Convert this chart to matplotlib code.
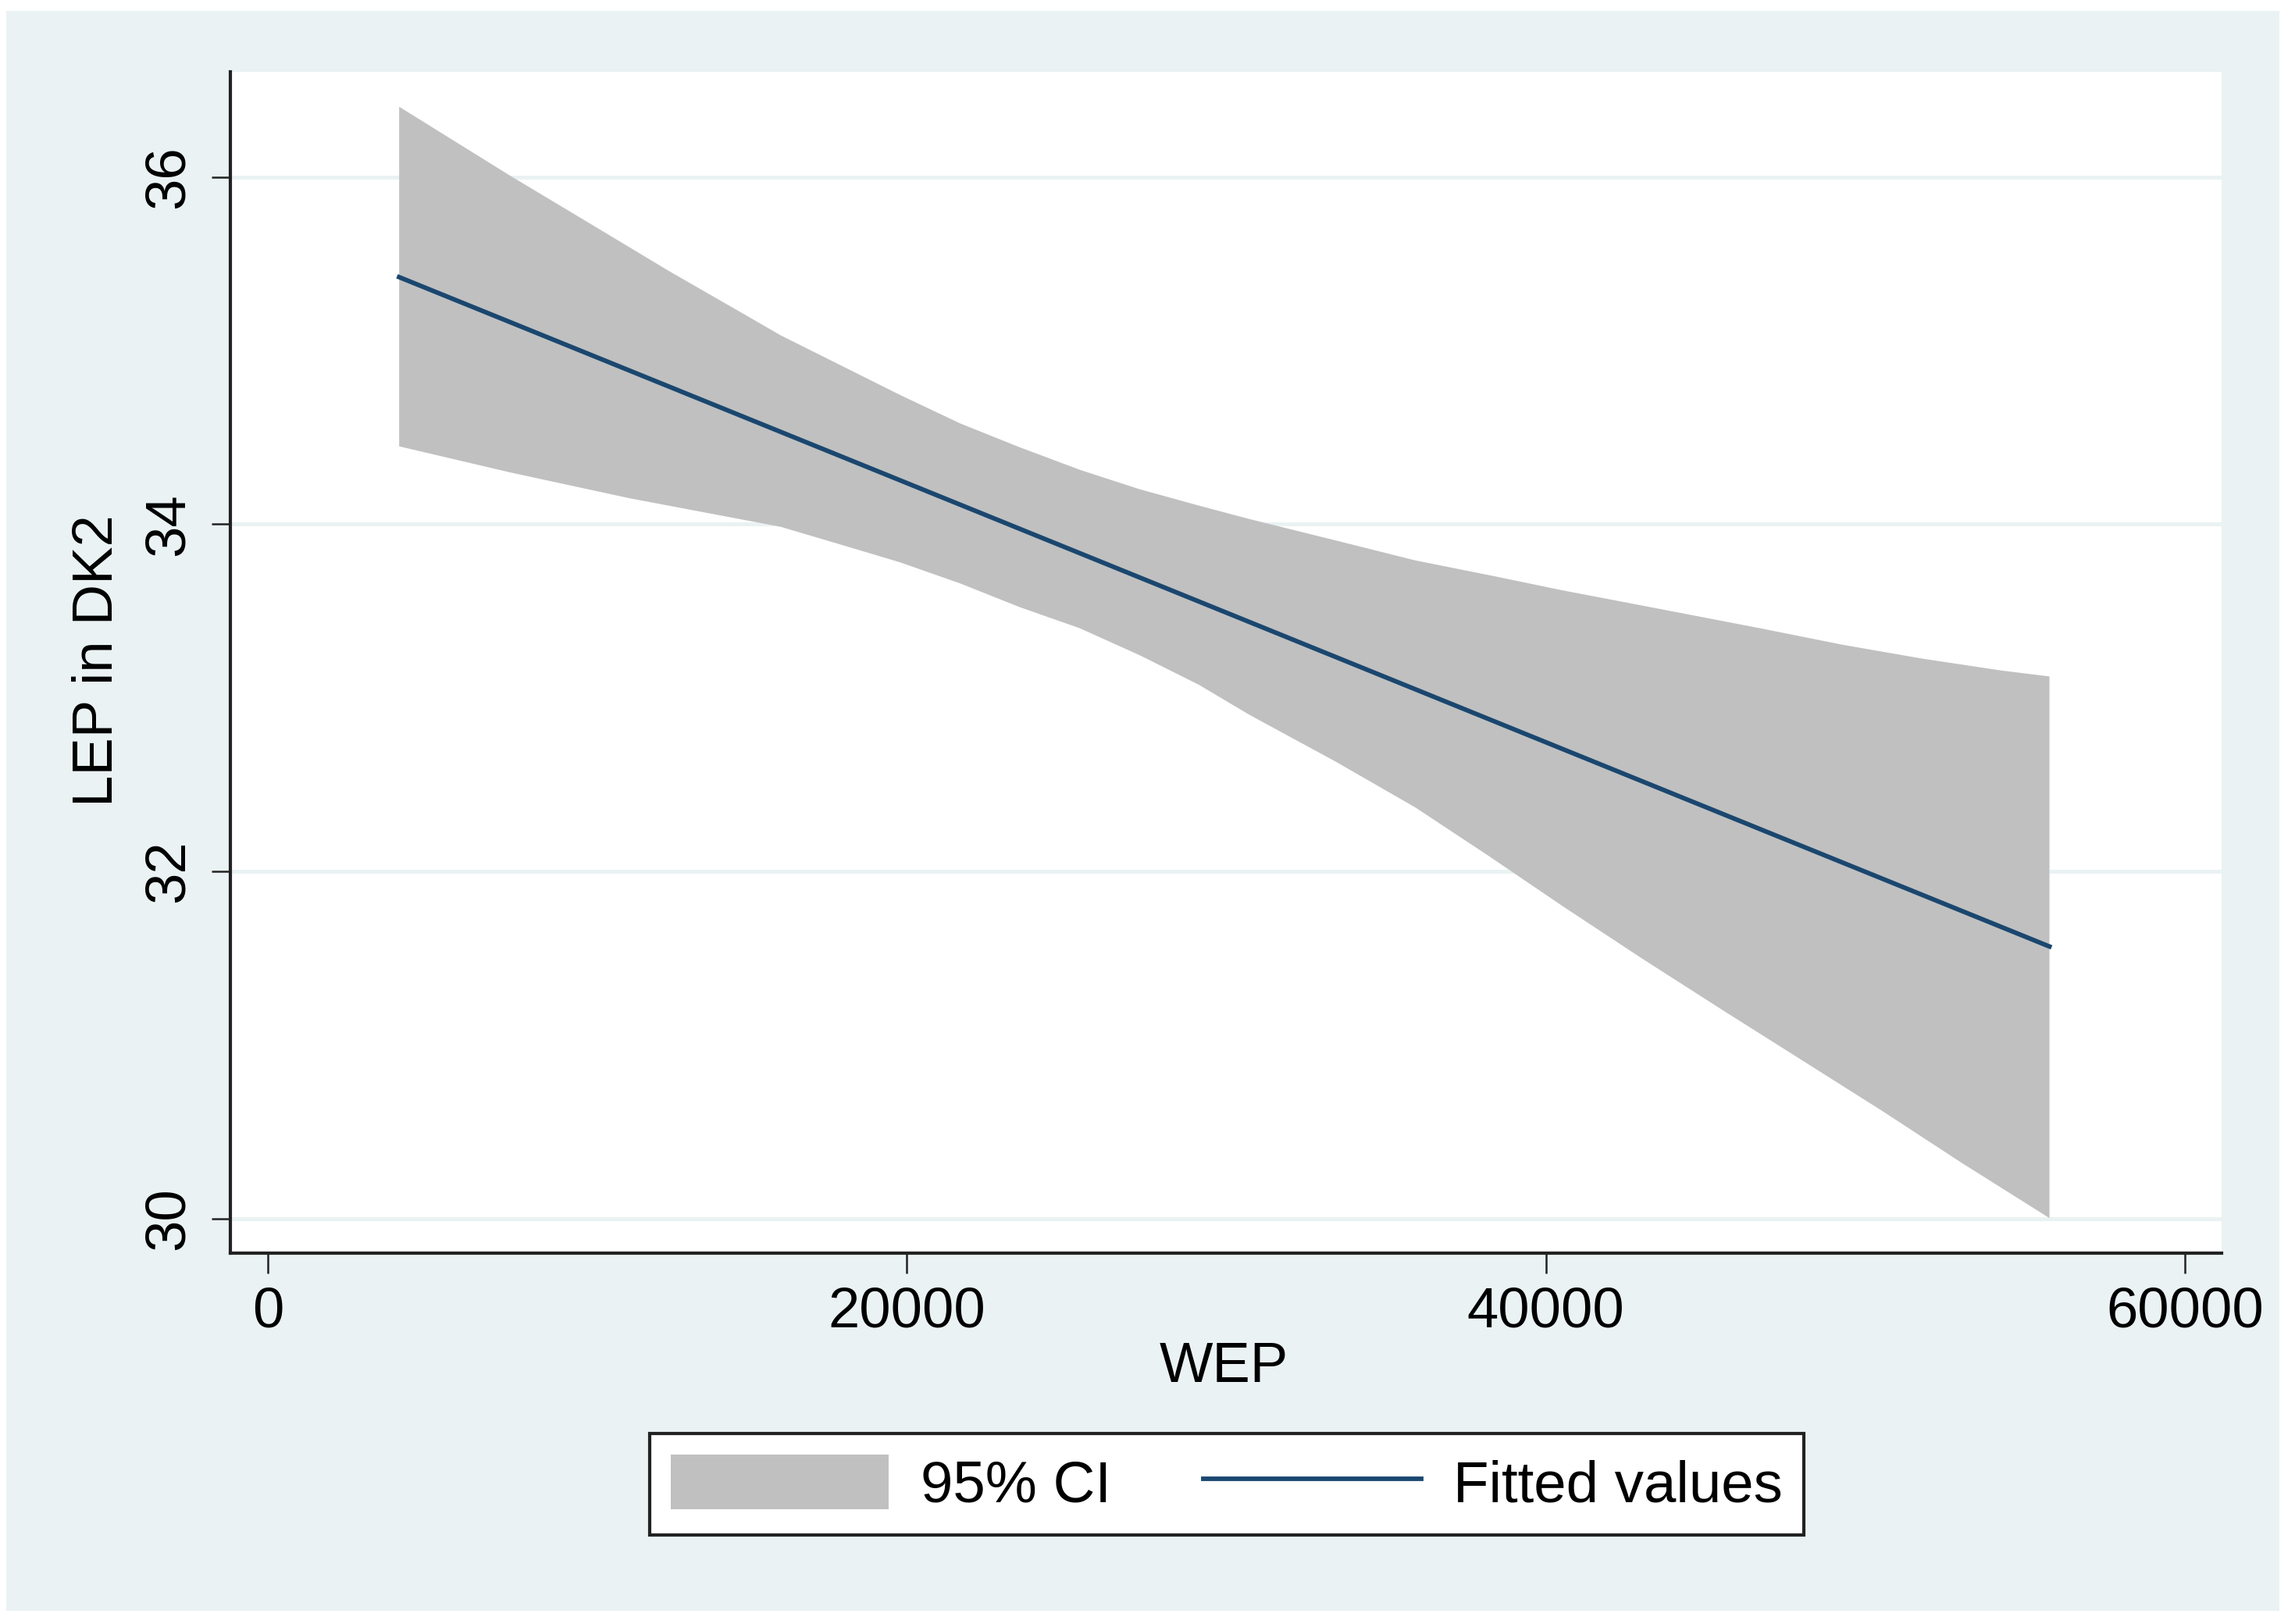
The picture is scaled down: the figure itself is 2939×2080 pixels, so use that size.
import matplotlib
matplotlib.use('Agg')
import matplotlib.pyplot as plt
from matplotlib.patches import Rectangle
import numpy as np

# values (WEP on x, LEP in DK2 on y)
CI_UPPER_X = [4110, 7579, 10072, 12565, 15060, 16057, 17927, 19799, 21669, 23539, 25410, 27280, 29150, 30721,
              33414, 35907, 38402, 40497, 43539, 46780, 49275, 51768, 54263, 55760]
CI_UPPER_Y = [36.406, 36.009, 35.734, 35.458, 35.194, 35.088, 34.916, 34.744, 34.581, 34.443, 34.314, 34.202, 34.107, 34.030,
              33.907, 33.792, 33.700, 33.620, 33.513, 33.398, 33.306, 33.226, 33.157, 33.123]
CI_LOWER_X = [4110, 7579, 11318, 16057, 17927, 19799, 21669, 23539, 25410, 27280, 29150, 30721, 33414, 35907,
              38200, 40520, 42990, 45534, 48029, 50522, 53015, 55760]
CI_LOWER_Y = [34.449, 34.299, 34.150, 33.985, 33.883, 33.780, 33.659, 33.522, 33.401, 33.246, 33.074, 32.902, 32.633, 32.369,
              32.090, 31.800, 31.500, 31.200, 30.910, 30.620, 30.320, 30.002]
FIT_X = [4110, 55760]
FIT_Y = [35.424, 31.567]
X_TICKS = [0, 20000, 40000, 60000]
Y_TICKS = [30, 32, 34, 36]

W, H, DPI = 2939, 2080, 300
BG = '#EAF2F3'; CI_COL = '#C0C0C0'; NAVY = '#1A476F'; AXC = '#222222'
FS = 17.4; LFS = 17.9
plt.rcParams['font.family'] = ['Liberation Sans', 'DejaVu Sans']

fig = plt.figure(figsize=(W/DPI, H/DPI), dpi=DPI, facecolor='white')
fig.patches.append(Rectangle((8/W, 1-2063/H), (2919-8)/W, (2063-14)/H, transform=fig.transFigure, facecolor=BG, edgecolor='none', zorder=-10))

ax = fig.add_axes([295/W, 1-1605/H, (2845-295)/W, (1605-92)/H])
ax.set_facecolor('white')
ax.set_xlim(-1173, 61148)
ax.set_ylim(29.80, 36.607)

ux = np.asarray(CI_UPPER_X, float); uy = np.asarray(CI_UPPER_Y, float)
lx = np.asarray(CI_LOWER_X, float); ly = np.asarray(CI_LOWER_Y, float)
ax.fill(np.concatenate([ux, lx[::-1]]), np.concatenate([uy, ly[::-1]]), color=CI_COL, lw=0, zorder=2, label='95% CI')
ax.plot(FIT_X, FIT_Y, color=NAVY, lw=1.4, zorder=3, label='Fitted values')

for sp in ('top', 'right'):
    ax.spines[sp].set_visible(False)
for sp in ('left', 'bottom'):
    ax.spines[sp].set_color(AXC); ax.spines[sp].set_linewidth(1.0)

ax.set_xticks(X_TICKS); ax.set_xticklabels([str(v) for v in X_TICKS], fontsize=FS)
ax.set_yticks(Y_TICKS); ax.set_yticklabels([str(v) for v in Y_TICKS], fontsize=FS, rotation=90, va='center')
ax.tick_params(axis='x', length=6.2, width=0.6, color=AXC, pad=4)
ax.tick_params(axis='y', length=5.8, width=0.6, color=AXC, pad=5)
ax.yaxis.grid(True, color=BG, lw=1.2, zorder=0)
ax.set_axisbelow(True)

fig.text(1567/W, 1-1752/H, 'WEP', fontsize=FS, ha='center', va='center')
fig.text(125/W, 1-846/H, 'LEP in DK2', fontsize=FS, rotation=90, ha='center', va='center')

leg = ax.legend(loc='center', bbox_to_anchor=(1571/W, 1-1901/H), bbox_transform=fig.transFigure,
                ncol=2, fontsize=LFS, frameon=True, fancybox=False, handlelength=3.74, handleheight=1.07,
                handletextpad=0.55, columnspacing=1.58, borderpad=0.36, borderaxespad=0)
leg.get_frame().set_edgecolor(AXC); leg.get_frame().set_linewidth(1.0); leg.get_frame().set_facecolor('white')
leg.get_frame().set_alpha(1)

fig.savefig('out.png', dpi=DPI, facecolor='white')
